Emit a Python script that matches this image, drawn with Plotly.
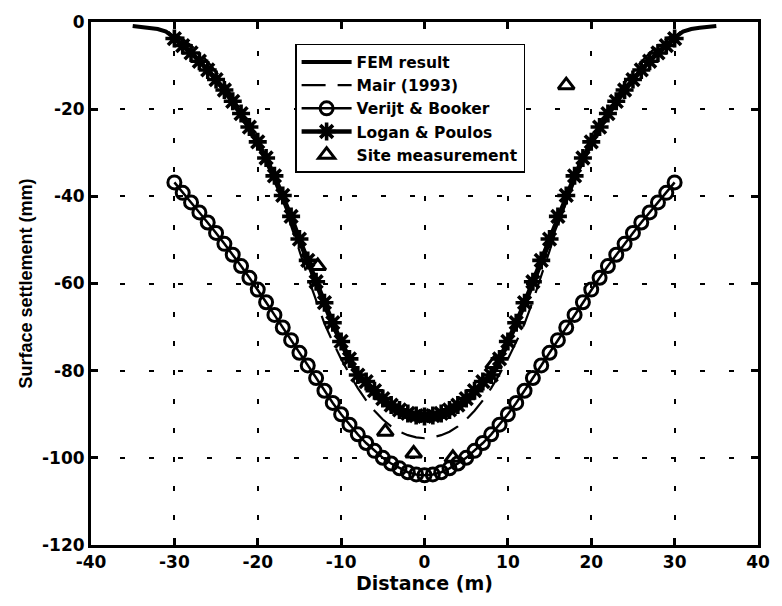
import plotly.graph_objects as go

# Surface settlement troughs above the tunnel (distance from centreline, m; settlement, mm)
fem_x = list(range(-35, 36))
fem_y = [-0.9, -1.1, -1.3, -1.6, -2.2, -3.6, -5.1, -6.9, -8.8, -10.9,
         -13.2, -15.7, -18.4, -21.3, -24.5, -28.0, -31.8, -36.0, -40.5, -45.3,
         -50.3, -55.3, -60.2, -65.0, -69.6, -73.9, -77.8, -81.1, -83.5, -85.6,
         -87.4, -88.9, -90.0, -90.8, -91.3, -91.5, -91.3, -90.8, -90.0, -88.9,
         -87.4, -85.6, -83.5, -81.1, -77.8, -73.9, -69.6, -65.0, -60.2, -55.3,
         -50.3, -45.3, -40.5, -36.0, -31.8, -28.0, -24.5, -21.3, -18.4, -15.7,
         -13.2, -10.9, -8.8, -6.9, -5.1, -3.6, -2.2, -1.6, -1.3, -1.1, -0.9]

mair_x = list(range(-30, 31))
mair_y = [-2.7, -3.9, -5.4, -7.1, -9.1, -11.4, -14.0, -17.4, -20.4, -23.7,
          -27.4, -31.5, -36.0, -41.0, -46.5, -52.5, -58.5, -64.0, -69.2, -73.4,
          -77.3, -80.8, -84.0, -86.8, -89.2, -91.2, -92.8, -94.0, -94.8, -95.3,
          -95.5, -95.3, -94.8, -94.0, -92.8, -91.2, -89.2, -86.8, -84.0, -80.8,
          -77.3, -73.4, -69.2, -64.0, -58.5, -52.5, -46.5, -41.0, -36.0, -31.5,
          -27.4, -23.7, -20.4, -17.4, -14.0, -11.4, -9.1, -7.1, -5.4, -3.9, -2.7]

vb_x = list(range(-30, 31))
vb_y = [-36.8, -39.2, -41.4, -43.7, -46.0, -48.4, -50.9, -53.4, -56.0, -58.7,
        -61.4, -64.3, -67.2, -70.1, -73.0, -75.9, -78.8, -81.7, -84.6, -87.4,
        -90.0, -92.4, -94.6, -96.6, -98.4, -100.0, -101.3, -102.4, -103.3, -103.8,
        -104.0, -103.8, -103.3, -102.4, -101.3, -100.0, -98.4, -96.6, -94.6, -92.4,
        -90.0, -87.4, -84.6, -81.7, -78.8, -75.9, -73.0, -70.1, -67.2, -64.3,
        -61.4, -58.7, -56.0, -53.4, -50.9, -48.4, -46.0, -43.7, -41.4, -39.2, -36.8]

lp_x = list(range(-30, 31))
lp_y = [-3.8, -5.4, -7.1, -9.0, -11.0, -13.2, -15.6, -18.2, -21.0, -24.1,
        -27.5, -31.2, -35.3, -39.8, -44.6, -49.8, -54.7, -59.6, -64.4, -69.0,
        -73.3, -77.3, -81.0, -82.5, -84.6, -86.4, -87.9, -89.0, -89.8, -90.3,
        -90.5, -90.3, -89.8, -89.0, -87.9, -86.4, -84.6, -82.5, -81.0, -77.3,
        -73.3, -69.0, -64.4, -59.6, -54.7, -49.8, -44.6, -39.8, -35.3, -31.2,
        -27.5, -24.1, -21.0, -18.2, -15.6, -13.2, -11.0, -9.0, -7.1, -5.4, -3.8]

site_x = [-12.8, -4.7, -1.3, 3.4, 8.3, 17.0]
site_y = [-56.0, -94.0, -99.0, -100.0, -78.5, -14.5]

x_ticks = [-40, -30, -20, -10, 0, 10, 20, 30, 40]
y_ticks = [0, -20, -40, -60, -80, -100, -120]

WIDE = "DejaVu Sans, Liberation Sans, sans-serif"
NARROW = "Liberation Sans, Arial, sans-serif"
INK = "black"

fig = go.Figure()

fig.add_trace(go.Scatter(x=fem_x, y=fem_y, mode="lines", name="FEM result",
                         line=dict(color=INK, width=4)))
fig.add_trace(go.Scatter(x=mair_x, y=mair_y, mode="lines", name="Mair (1993)",
                         line=dict(color=INK, width=2.2, dash="24px,12px")))
fig.add_trace(go.Scatter(x=vb_x, y=vb_y, mode="lines+markers", name="Verijt & Booker",
                         line=dict(color=INK, width=2.5),
                         marker=dict(symbol="circle-open", size=13, color=INK,
                                     line=dict(color=INK, width=3))))
fig.add_trace(go.Scatter(x=lp_x, y=lp_y, mode="lines+markers", name="Logan & Poulos",
                         line=dict(color=INK, width=4.5),
                         marker=dict(symbol="asterisk-open", size=15, color=INK,
                                     line=dict(color=INK, width=3.6))))
fig.add_trace(go.Scatter(x=site_x, y=site_y, mode="markers", name="Site measurement",
                         marker=dict(symbol="triangle-up-open", size=14, color=INK,
                                     line=dict(color=INK, width=3))))

axis_common = dict(
    showline=True, linecolor=INK, linewidth=3, mirror="allticks",
    ticks="inside", ticklen=7, tickwidth=2.5, tickcolor=INK,
    showgrid=True, gridcolor=INK, gridwidth=2, griddash="5px,24px",
    zeroline=False,
    tickfont=dict(family=WIDE, size=17, color=INK, weight="bold"),
)

fig.update_xaxes(range=[-40, 40], tickvals=x_ticks, ticktext=[str(v) for v in x_ticks],
                 title=dict(text="Distance (m)", standoff=2,
                            font=dict(family=WIDE, size=19, color=INK, weight="bold")),
                 **axis_common)
fig.update_yaxes(range=[-120, 0], tickvals=y_ticks, ticktext=[str(v) for v in y_ticks],
                 ticklabelstandoff=0,
                 title=dict(text="Surface settlement (mm)", standoff=5,
                            font=dict(family=NARROW, size=18, color=INK, weight="bold")),
                 **axis_common)

fig.update_layout(
    width=782, height=606,
    margin=dict(l=91, r=14, t=17, b=61),
    paper_bgcolor="white", plot_bgcolor="white",
    showlegend=True,
    legend=dict(x=0.306, y=0.958, xanchor="left", yanchor="top",
                bgcolor="white", bordercolor=INK, borderwidth=1.5,
                font=dict(family=WIDE, size=15.5, color=INK, weight="bold"),
                itemwidth=50, tracegroupgap=0),
)

fig.write_html("out.html")
